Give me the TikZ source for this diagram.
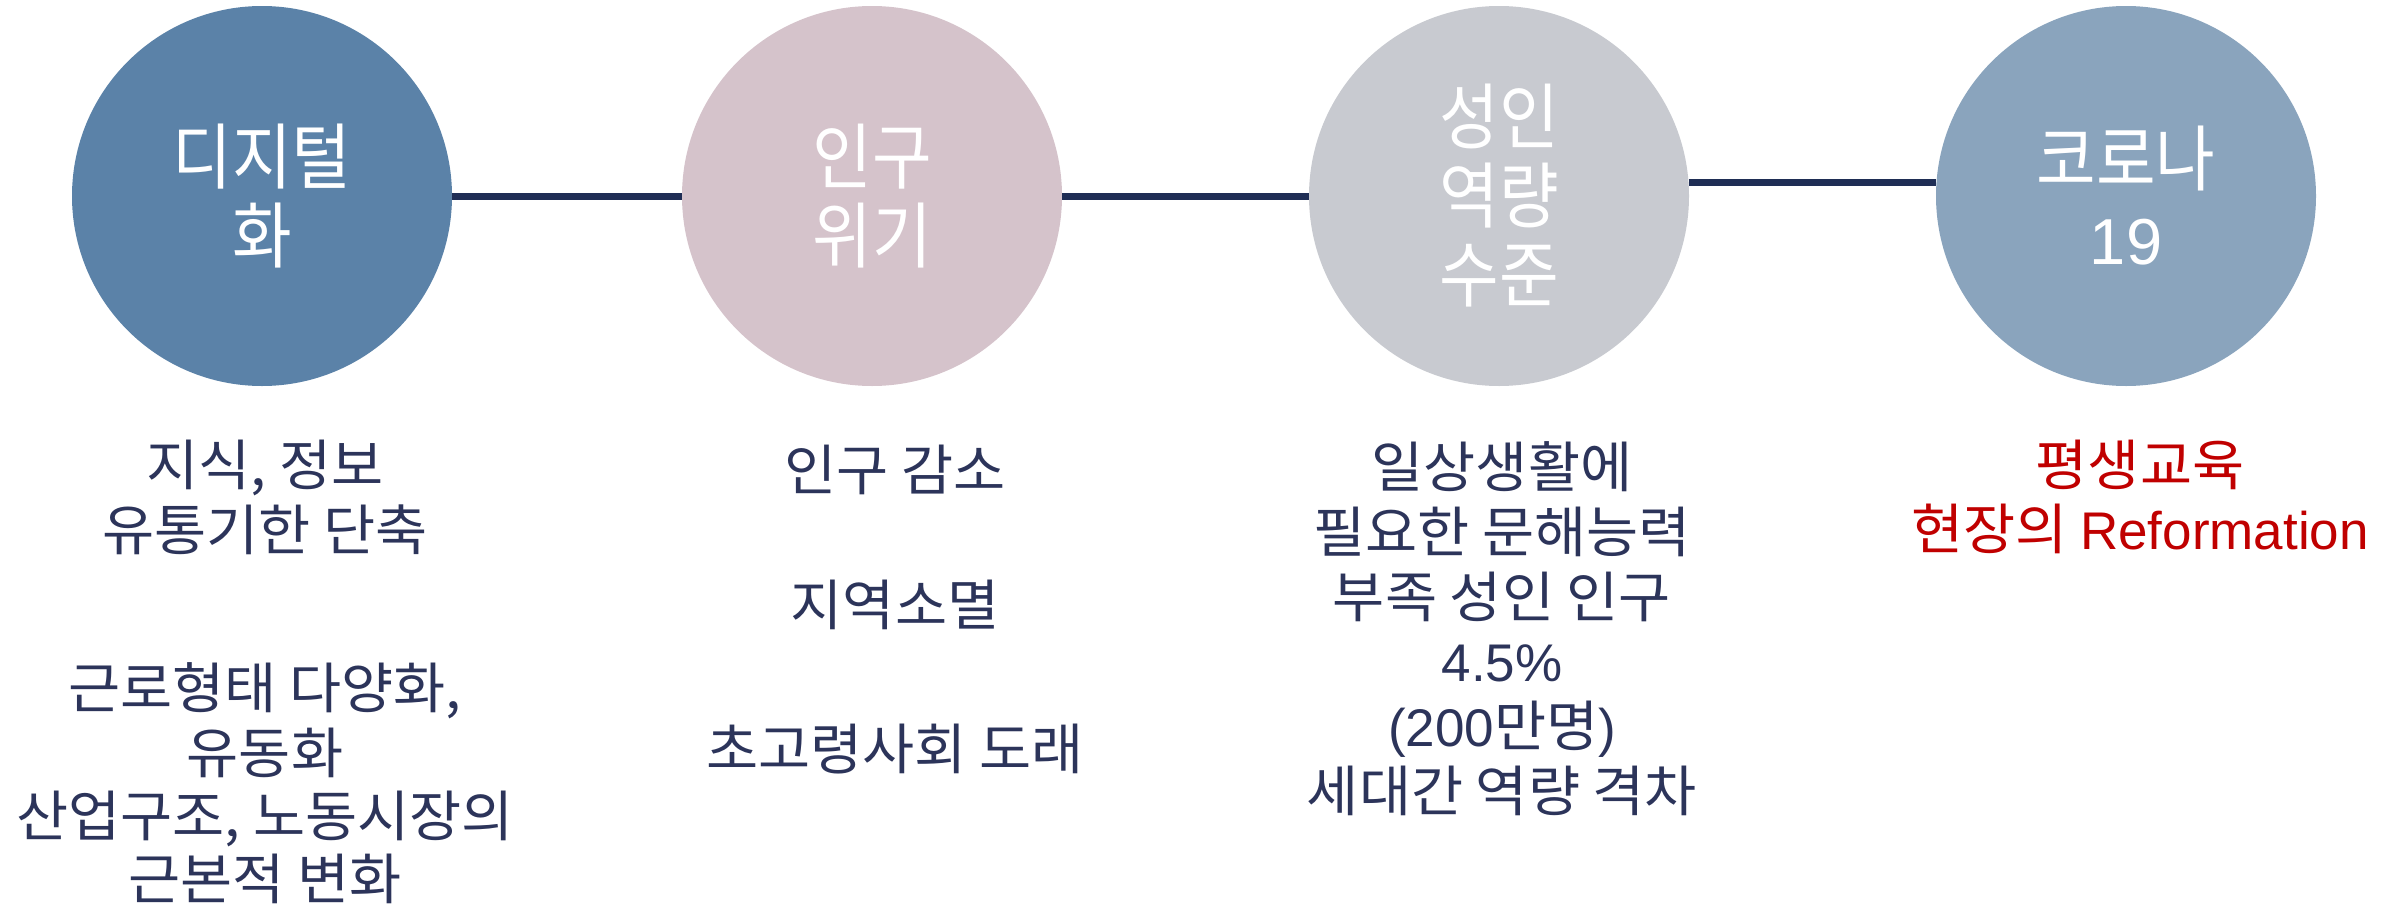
\documentclass[tikz,border=0pt]{standalone}
\usepackage{fontspec}
\setmainfont[FakeStretch=1.03]{Noto Sans CJK KR}
\newfontfamily\circfont[FakeStretch=0.9]{Noto Sans CJK KR}
\newfontfamily\latfont{Liberation Sans}
\definecolor{cA}{HTML}{5B82A8}
\definecolor{cB}{HTML}{D5C3CB}
\definecolor{cC}{HTML}{C8CAD0}
\definecolor{cD}{HTML}{8AA4BD}
\definecolor{linenavy}{HTML}{1F2E55}
\definecolor{txtnavy}{HTML}{2C345A}
\definecolor{txtred}{HTML}{C00000}
\newcommand{\latb}{\latfont\fontsize{53}{65}\selectfont}
\tikzset{
  bubble/.style={circle, minimum size=380pt, inner sep=0pt, draw=none, text=white, align=center,
    font=\circfont\fontsize{72}{79}\selectfont},
  link/.style={draw=linenavy, line width=7pt},
  bodytxt/.style={anchor=base, inner sep=0pt, text=txtnavy, font=\fontsize{55}{65}\selectfont},
  redtxt/.style={bodytxt, text=txtred}
}
\begin{document}
\begin{tikzpicture}[x=1pt,y=-1pt]
\useasboundingbox (0,0) rectangle (2402,908);
\node[bubble, fill=cA] (c1) at (262,196) {디지털\\화};
\node[bubble, fill=cB] (c2) at (872,196) {인구\\위기};
\node[bubble, fill=cC] (c3) at (1499,196) {성인\\역량\\수준};
\node[bubble, fill=cD] (c4) at (2126,196) {코로나\\{\latfont\fontsize{65}{79}\selectfont 19}};
\draw[link] (c1.east) -- (c2.west);
\draw[link] (c2.east) -- (c3.west);
\draw[link] ([yshift=14pt]c3.east) -- ([yshift=14pt]c4.west);
% column 1
\node[bodytxt] (a1) at (265,485) {지식, 정보};
\node[bodytxt] (a2) at (265,550) {유통기한 단축};
\node[bodytxt] (a3) at (265,708) {근로형태 다양화,};
\node[bodytxt] (a4) at (265,773) {유동화};
\node[bodytxt] (a5) at (265,836) {산업구조, 노동시장의};
\node[bodytxt] (a6) at (265,899) {근본적 변화};
% column 2
\node[bodytxt] (b1) at (895,490) {인구 감소};
\node[bodytxt] (b2) at (895,625) {지역소멸};
\node[bodytxt] (b3) at (895,769) {초고령사회 도래};
% column 3
\node[bodytxt] (d1) at (1502,487) {일상생활에};
\node[bodytxt] (d2) at (1502,552) {필요한 문해능력};
\node[bodytxt] (d3) at (1502,617) {부족 성인 인구};
\node[bodytxt] (d4) at (1502,681) {\latb 4.5\%};
\node[bodytxt] (d5) at (1502,746) {{\latb (200}만명{\latb )}};
\node[bodytxt] (d6) at (1502,811) {세대간 역량 격차};
% column 4
\node[redtxt] (e1) at (2140,485) {평생교육};
\node[redtxt] (e2) at (2140,549) {현장의 {\latb Reformation}};
\end{tikzpicture}
\end{document}
